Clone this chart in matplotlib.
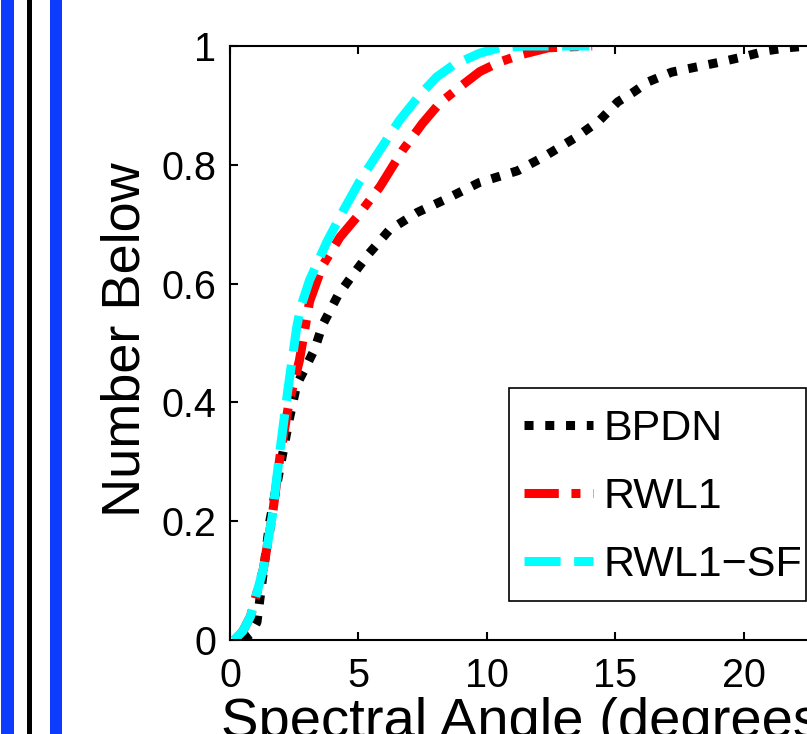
import numpy as np
import matplotlib
matplotlib.use("Agg")
import matplotlib.pyplot as plt
from matplotlib.patches import Rectangle

plt.rcParams['font.family'] = ['Liberation Sans', 'DejaVu Sans']

# cumulative curves
bpdn_x = [0.5, 0.8, 1.05, 1.55, 1.95, 2.3, 2.6, 2.9, 3.3, 3.6, 4.2, 4.7, 5.4, 6.2, 7.3, 8.3,
          9.7, 11.2, 12.2, 13.5, 14.4, 15.1, 15.7, 16.3, 17.2, 18.2, 19.1, 20.1, 20.9, 21.7, 22.5, 25]
bpdn_y = [0, 0.01, 0.03, 0.2, 0.29, 0.37, 0.43, 0.455, 0.49, 0.53, 0.58, 0.61, 0.65, 0.69, 0.72, 0.74,
          0.77, 0.79, 0.813, 0.847, 0.875, 0.906, 0.922, 0.94, 0.956, 0.965, 0.973, 0.983, 0.992, 0.997, 1.0, 1.0]

rwl1_x = [0.2, 0.5, 0.8, 1.3, 1.65, 1.95, 2.3, 2.7, 3.1, 3.6, 4.28, 4.94, 5.84, 6.73, 7.5, 8.17, 8.95,
          9.73, 10.5, 11.3, 12.4, 14.1]
rwl1_y = [0, 0.015, 0.04, 0.12, 0.21, 0.31, 0.40, 0.47, 0.57, 0.63, 0.678, 0.712, 0.763, 0.825, 0.87,
          0.904, 0.931, 0.957, 0.973, 0.985, 0.997, 1.0]

sf_x = [0.15, 0.5, 0.8, 1.3, 1.65, 1.95, 2.25, 2.6, 2.75, 3.1, 3.77, 4.4, 5.06, 5.84, 6.6, 7.4, 8.05,
        8.7, 9.73, 10.5, 11.5, 14.0]
sf_y = [0, 0.015, 0.04, 0.12, 0.21, 0.32, 0.42, 0.527, 0.56, 0.606, 0.67, 0.722, 0.773, 0.825, 0.875,
        0.918, 0.948, 0.968, 0.988, 0.997, 1.0, 1.0]

xticks = [0, 5, 10, 15, 20, 25]
yticks = [0, 0.2, 0.4, 0.6, 0.8, 1]
ytick_labels = ['0', '0.2', '0.4', '0.6', '0.8', '1']

W, H = 807, 734
fig = plt.figure(figsize=(W / 100, H / 100), dpi=100)

# strips of the neighbouring panel at the left edge
for x0, x1, c in [(1, 14, '#0d3cff'), (27, 32, 'black'), (50, 62, '#0d3cff')]:
    fig.add_artist(Rectangle((x0 / W, 0), (x1 - x0) / W, 1, transform=fig.transFigure,
                             color=c, lw=0))

ax = fig.add_axes([230 / W, 1 - 640 / H, 642 / W, 594 / H])

lw = 6.5
ax.plot(bpdn_x, bpdn_y, color='black', lw=lw, dashes=(1.0, 1.3), label='BPDN')
ax.plot(rwl1_x, rwl1_y, color='red', lw=lw, dashes=(3.8, 1.4, 1.0, 1.4), label='RWL1')
ax.plot(sf_x, sf_y, color='cyan', lw=lw, dashes=(4.0, 1.5), label='RWL1\u2212SF')

ax.set_xlim(0, 25)
ax.set_ylim(0, 1)
ax.set_xticks(xticks)
ax.set_yticks(yticks)
ax.set_yticklabels(ytick_labels)
ax.tick_params(direction='in', length=6, width=1.5, labelsize=28.5, top=True, right=True)
ax.tick_params(axis='x', pad=12)
ax.tick_params(axis='y', pad=10)
for s in ax.spines.values():
    s.set_linewidth(1.5)

fig.text(126 / W, 1 - 340 / H, 'Number Below', rotation=90, ha='center', va='center', fontsize=39)
fig.text(221 / W, 1 - 697 / H, 'Spectral Angle (degrees)', ha='left', va='top', fontsize=40.5)

# legend without its own frame; box drawn separately so its right edge stays in view
leg = ax.legend(loc='upper left', bbox_to_anchor=(509 / W, 1 - 394 / H), bbox_transform=fig.transFigure,
                fontsize=31, frameon=False, handlelength=1.6,
                handletextpad=0.25, labelspacing=0.65, borderpad=0.35, borderaxespad=0)
fig.add_artist(Rectangle((509 / W, 1 - 601 / H), 297 / W, 213 / H, transform=fig.transFigure,
                         facecolor='none', edgecolor='black', lw=1.2, zorder=5))

fig.savefig('out.png', dpi=100)
